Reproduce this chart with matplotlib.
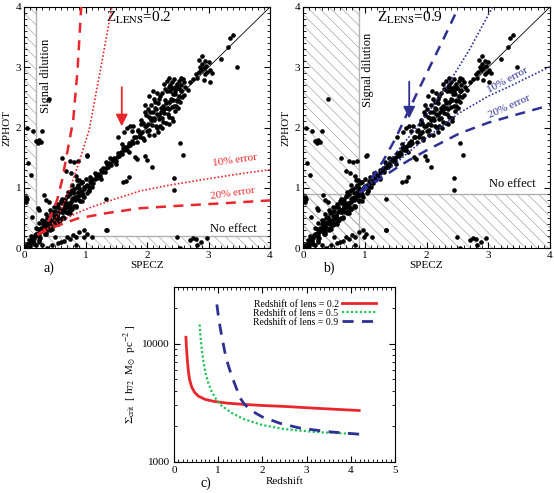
import matplotlib
matplotlib.use("Agg")
import matplotlib.pyplot as plt
from matplotlib.patches import Rectangle
from matplotlib.ticker import MultipleLocator, FixedLocator, NullFormatter, LogLocator

plt.rcParams['font.family'] = ['Liberation Serif', 'DejaVu Serif']
plt.rcParams['mathtext.fontset'] = 'stix'
plt.rcParams['hatch.linewidth'] = 0.5

# ---------------- data ----------------
specz = [
 # tight band 0-1
 0.01,0.03,0.05,0.08,0.10,0.13,0.15,0.18,0.20,0.23,0.25,0.28,0.30,0.33,0.35,0.38,0.40,0.43,0.45,0.48,
 0.50,0.53,0.55,0.58,0.60,0.63,0.65,0.68,0.70,0.73,0.75,0.78,0.80,0.83,0.85,0.88,0.90,0.93,0.95,0.98,1.00,
 # core band 0-1
 0.04,0.07,0.11,0.14,0.17,0.21,0.24,0.27,0.31,0.34,0.37,0.41,0.44,0.47,0.51,0.54,0.57,0.61,0.64,0.67,
 0.71,0.74,0.77,0.81,0.84,0.87,0.91,0.94,0.97,
 # wider band 0-1.1
 0.12,0.16,0.22,0.26,0.31,0.36,0.40,0.44,0.47,0.51,0.54,0.57,0.61,0.64,0.67,0.71,0.74,0.77,0.81,0.84,
 0.87,0.91,0.94,0.97,1.01,1.05,1.08,
 # upper fan
 0.20,0.25,0.30,0.36,0.42,0.48,0.55,0.62,0.70,0.78,0.86,0.95,
 0.32,0.38,0.44,0.50,0.56,0.60,0.66,0.72,0.76,0.82,0.90,0.93,
 # lower fan
 0.25,0.35,0.45,0.55,0.65,0.75,0.85,0.95,0.58,0.78,
 0.34,0.42,0.48,0.53,0.62,0.68,0.73,0.82,0.90,0.96,1.03,1.10,
 # band 1-1.8
 1.03,1.05,1.07,1.09,1.11,1.13,1.15,1.17,1.19,1.21,1.23,1.25,1.27,1.29,1.31,1.33,1.35,1.37,1.39,1.41,
 1.43,1.45,1.47,1.49,1.51,1.53,1.55,1.57,1.59,1.61,1.63,1.65,1.67,1.69,1.71,1.73,1.75,1.77,1.79,
 1.15,1.25,1.40,1.50,1.60,1.70,1.05,1.33,
 # blob 1.8-2.6
 1.82,1.84,1.86,1.88,1.90,1.92,1.94,1.96,1.98,2.00,2.02,2.04,2.06,2.08,2.10,2.12,2.14,2.16,2.18,2.20,
 2.22,2.24,2.26,2.28,2.30,2.32,2.34,2.36,2.38,2.40,2.42,2.44,2.46,2.48,2.50,2.52,2.54,2.56,2.58,2.60,
 1.91,1.96,2.01,2.07,2.11,2.16,2.04,2.11,2.17,2.21,2.26,2.31,2.36,2.41,2.46,2.51,2.19,2.24,2.29,1.97,
 2.03,2.09,2.13,2.27,
 1.85,1.89,1.93,1.99,2.03,2.07,2.11,2.15,2.19,2.23,2.27,2.31,2.35,2.39,2.43,2.47,2.51,2.55,2.57,2.13,
 2.21,2.33,2.37,2.45,2.05,2.25,2.35,2.42,2.18,1.95,
 # clump above diagonal
 2.32,2.36,2.40,2.44,2.48,2.52,2.56,2.40,2.45,2.35,2.50,2.55,2.60,
 # 2.6-3.1
 2.62,2.66,2.70,2.75,2.80,2.84,2.86,2.88,2.90,2.92,2.94,2.96,2.98,3.00,3.02,2.85,2.90,2.95,3.05,2.82,
 2.92,3.02,
 3.21,3.32,3.35,3.40,3.47,
 # arm near arrow
 1.53,1.62,1.67,1.72,1.78,1.75,
 # outliers below band
 1.80,1.83,1.97,2.00,2.08,1.61,1.66,1.70,2.44,2.44,2.54,2.59,1.34,1.34,
 2.49,2.54,2.70,2.75,2.80,2.82,2.88,2.97,
 # outliers above band
 0.05,0.15,0.20,0.22,0.25,0.27,0.30,0.41,0.06,0.12,0.04,0.03,0.62,0.75,0.88,0.81,0.76,0.69,0.86,0.89,
 0.35,0.41,0.24,0.33,1.03,0.72,0.78,0.13,0.22,0.05,0.84,1.02,
 # low strip
 0.30,0.37,0.45,0.55,0.60,0.65,0.70,0.75,0.84,0.85,0.98,1.11,1.35,1.02,0.90,0.50,0.97,0.80,0.20,0.25,
 0.10,
]
zphot = [
 0.04,0.00,0.05,0.13,0.08,0.15,0.10,0.22,0.23,0.20,0.25,0.33,0.28,0.35,0.30,0.42,0.43,0.40,0.45,0.53,
 0.48,0.55,0.50,0.62,0.63,0.60,0.65,0.73,0.68,0.75,0.70,0.82,0.83,0.80,0.85,0.93,0.88,0.95,0.90,1.02,1.03,
 0.05,0.06,0.13,0.12,0.17,0.24,0.21,0.28,0.30,0.36,0.35,0.41,0.47,0.44,0.52,0.53,0.59,0.59,0.64,0.70,
 0.68,0.75,0.76,0.83,0.82,0.87,0.94,0.91,0.98,
 0.20,0.07,0.32,0.17,0.40,0.26,0.52,0.33,0.60,0.40,0.68,0.45,0.75,0.52,0.82,0.58,0.90,0.64,0.98,0.70,
 1.04,0.78,1.10,0.85,1.14,0.95,1.18,
 0.34,0.42,0.47,0.56,0.63,0.68,0.73,0.82,0.87,0.97,1.02,1.10,
 0.44,0.50,0.58,0.62,0.68,0.78,0.76,0.86,0.95,0.92,1.00,1.08,
 0.14,0.23,0.31,0.40,0.50,0.58,0.68,0.78,0.46,0.65,
 0.24,0.30,0.38,0.42,0.50,0.60,0.62,0.70,0.80,0.86,0.92,1.02,
 1.05,1.02,1.12,1.08,1.14,1.08,1.15,1.21,1.17,1.23,1.20,1.30,1.26,1.32,1.26,1.33,1.39,1.35,1.41,1.38,
 1.48,1.44,1.50,1.44,1.51,1.57,1.53,1.59,1.56,1.66,1.62,1.68,1.62,1.69,1.75,1.71,1.77,1.74,1.84,
 1.25,1.15,1.50,1.40,1.72,1.60,0.97,1.43,
 1.85,1.76,1.96,1.84,2.06,1.92,1.82,2.02,2.20,1.94,2.05,1.96,2.16,2.04,2.26,2.12,2.02,2.22,2.40,2.14,
 2.25,2.16,2.36,2.24,2.46,2.32,2.22,2.42,2.60,2.34,2.45,2.36,2.56,2.44,2.66,2.52,2.42,2.62,2.80,2.54,
 2.12,2.25,2.31,2.38,2.47,2.58,1.87,1.88,1.99,2.03,2.09,2.08,2.18,2.16,2.27,2.32,2.48,2.57,2.64,2.38,
 2.52,2.61,2.33,2.72,
 1.95,1.90,2.08,2.02,2.18,2.12,2.15,2.30,2.20,2.32,2.30,2.40,2.30,2.48,2.55,2.35,2.45,2.60,2.50,2.42,
 2.52,2.60,2.70,2.68,2.25,2.00,2.06,2.10,1.92,1.80,
 2.78,2.82,2.75,2.80,2.72,2.78,2.70,2.65,2.60,2.68,2.65,2.82,2.75,
 2.68,2.62,2.75,2.80,2.88,2.92,3.00,2.95,3.05,2.98,3.10,3.02,2.92,3.08,2.95,3.12,3.18,2.88,2.90,2.82,
 2.79,2.76,
 3.14,3.33,3.48,3.54,3.01,
 1.85,1.92,1.99,2.02,2.02,1.95,
 1.51,1.47,1.53,1.46,1.35,1.10,1.12,1.18,1.16,0.96,1.74,1.54,0.81,0.30,
 0.18,0.00,0.14,0.16,0.15,0.05,0.10,0.16,
 2.00,1.94,1.78,1.74,1.80,1.76,1.95,2.47,1.41,1.21,0.85,0.77,1.49,1.45,1.44,1.43,1.24,1.27,1.13,1.13,
 0.80,0.77,0.63,0.88,1.54,0.93,1.04,0.52,0.66,0.82,1.20,1.52,
 0.05,0.00,0.05,0.08,0.10,0.12,0.19,0.15,0.05,0.18,0.19,0.19,0.30,0.24,0.27,0.18,0.30,0.22,0.05,0.10,
 0.03,
]

# error curves, lens z = 0.2 (panel a)
a_dash_up_x = [0.22, 0.33, 0.43, 0.54, 0.62, 0.68, 0.80, 0.87, 0.93]
a_dash_up_y = [0.22, 0.30, 0.52, 0.80, 1.13, 1.46, 2.12, 2.95, 4.00]
a_dot_up_x = [0.22, 0.43, 0.60, 0.76, 0.89, 1.06, 1.25, 1.43]
a_dot_up_y = [0.22, 0.35, 0.63, 1.02, 1.41, 1.96, 3.00, 4.00]
a_dot_lo_x = [0.22, 0.40, 0.60, 0.86, 1.10, 1.50, 1.90, 2.40, 3.00, 3.50, 4.00]
a_dot_lo_y = [0.22, 0.33, 0.45, 0.58, 0.68, 0.82, 0.95, 1.05, 1.15, 1.23, 1.30]
a_dash_lo_x = [0.22, 0.49, 0.87, 1.35, 1.89, 2.50, 3.20, 4.00]
a_dash_lo_y = [0.22, 0.35, 0.49, 0.58, 0.66, 0.70, 0.74, 0.79]

# error curves, lens z = 0.9 (panel b)
b_dash_up_x = [0.92, 1.10, 1.30, 1.50, 1.65, 1.85, 2.05, 2.28, 2.52]
b_dash_up_y = [0.92, 1.14, 1.45, 1.82, 2.15, 2.58, 3.00, 3.48, 4.00]
b_dot_up_x = [0.92, 1.20, 1.50, 1.80, 2.10, 2.40, 2.70, 3.07]
b_dot_up_y = [0.92, 1.22, 1.57, 1.95, 2.35, 2.80, 3.30, 4.00]
b_dot_lo_x = [0.92, 1.20, 1.50, 1.72, 2.00, 2.53, 3.00, 3.34, 4.00]
b_dot_lo_y = [0.92, 1.15, 1.40, 1.60, 1.83, 2.24, 2.52, 2.68, 3.01]
b_dash_lo_x = [0.92, 1.18, 1.50, 1.72, 2.00, 2.53, 3.00, 3.34, 4.00]
b_dash_lo_y = [0.92, 1.10, 1.32, 1.46, 1.62, 1.90, 2.08, 2.18, 2.37]

# Sigma_crit curves (panel c)
c02_z = [0.27, 0.28, 0.30, 0.32, 0.35, 0.40, 0.46, 0.55, 0.70, 0.90, 1.20, 1.60, 2.00, 2.50, 3.30, 4.19]
c02_s = [11300, 9500, 7400, 6100, 5000, 4300, 3900, 3600, 3380, 3250, 3140, 3060, 3000, 2945, 2830, 2720]
c05_z = [0.58, 0.60, 0.63, 0.67, 0.72, 0.78, 0.85, 0.95, 1.05, 1.30, 1.58, 2.00, 2.48, 3.20, 4.19]
c05_s = [14490, 11500, 8800, 6900, 5500, 4600, 3950, 3400, 3040, 2600, 2300, 2050, 1900, 1790, 1717]
c09_z = [0.97, 1.00, 1.04, 1.08, 1.15, 1.22, 1.30, 1.40, 1.50, 1.60, 1.70, 1.85, 2.00, 2.40, 2.86, 3.50, 4.19]
c09_s = [21380, 17500, 14000, 11500, 8500, 6700, 5400, 4300, 3450, 3050, 2830, 2580, 2400, 2120, 1930, 1800, 1717]
legend_labels = ['Redshift of lens = 0.2', 'Redshift of lens = 0.5', 'Redshift of lens = 0.9']

RED = '#e8262c'
BLUE = '#2e3192'
GREEN = '#22c35a'
HATCH_C = '#a8a8a8'

W, H = 554, 493
fig = plt.figure(figsize=(W/100, H/100), dpi=100)

def fr(l, t, r, b):
    return [l/W, 1-b/H, (r-l)/W, (b-t)/H]

def scatter_panel(ax, zl, color, curves, texts, arrow, letter):
    ax.set_xlim(0, 4); ax.set_ylim(0, 4)
    ax.add_patch(Rectangle((0, 0), zl, 4, facecolor='none', edgecolor=HATCH_C,
                           hatch='\\\\\\', linewidth=0, zorder=0))
    ax.add_patch(Rectangle((0, 0), 4, zl, facecolor='none', edgecolor=HATCH_C,
                           hatch='\\\\\\', linewidth=0, zorder=0))
    ax.axvline(zl, color='#b0b0b0', lw=1.0, zorder=1)
    ax.axhline(zl, color='#b0b0b0', lw=1.0, zorder=1)
    ax.plot([0, 4], [0, 4], color='black', lw=0.6, zorder=2)
    ax.scatter(specz, zphot, s=11, c='black', marker='o', linewidths=0, zorder=3)
    for (x, y, ls, lw) in curves:
        if ls == 'dash':
            ax.plot(x, y, color=color, lw=lw, dashes=(4, 3), zorder=4)
        else:
            ax.plot(x, y, color=color, lw=lw, linestyle=(0, (1, 1.2)), zorder=4)
    for (x, y, s, rot, fs, kw) in texts:
        ax.text(x, y, s, rotation=rot, fontsize=fs, **kw)
    ax.annotate('', xy=(arrow[0], arrow[1]), xytext=(arrow[0], arrow[2]),
                arrowprops=dict(arrowstyle='-|>,head_width=0.35,head_length=0.7',
                                color=color, lw=1.3, shrinkA=0, shrinkB=0), zorder=5)
    ax.xaxis.set_major_locator(MultipleLocator(1))
    ax.yaxis.set_major_locator(MultipleLocator(1))
    ax.xaxis.set_minor_locator(MultipleLocator(0.1))
    ax.yaxis.set_minor_locator(MultipleLocator(0.1))
    ax.tick_params(which='both', direction='in', top=True, right=True, labelsize=8, pad=2)
    ax.tick_params(which='major', length=4, width=0.8)
    ax.tick_params(which='minor', length=2, width=0.6)
    ax.set_xlabel('SPECZ', fontsize=8, labelpad=1)
    ax.set_ylabel('ZPHOT', fontsize=8, labelpad=3)
    ax.text(0.08, -0.083, letter, transform=ax.transAxes, fontsize=10, ha='left', va='center')

axa = fig.add_axes(fr(24, 7, 270, 248))
scatter_panel(axa, 0.2, RED,
    [(a_dash_up_x, a_dash_up_y, 'dash', 1.8), (a_dot_up_x, a_dot_up_y, 'dot', 1.2),
     (a_dot_lo_x, a_dot_lo_y, 'dot', 1.2), (a_dash_lo_x, a_dash_lo_y, 'dash', 1.8)],
    [(0.36, 2.85, 'Signal dilution', 90, 9, dict(ha='center', va='center')),
     (3.4, 0.21, 'No effect', 0, 9, dict(ha='center', va='bottom')),
     (3.43, 1.46, '10% error', 8, 8, dict(ha='center', va='center', color=RED)),
     (3.40, 0.91, '20% error', 8, 8, dict(ha='center', va='center', color=RED)),
     (1.87, 3.81, r'Z$_{\rm LENS}$=0.2', 0, 11, dict(ha='center', va='center'))],
    (1.59, 2.02, 2.67), 'a)')

axb = fig.add_axes(fr(303, 7, 550, 248))
scatter_panel(axb, 0.9, BLUE,
    [(b_dash_up_x, b_dash_up_y, 'dash', 1.8), (b_dot_up_x, b_dot_up_y, 'dot', 1.2),
     (b_dot_lo_x, b_dot_lo_y, 'dot', 1.2), (b_dash_lo_x, b_dash_lo_y, 'dash', 1.8)],
    [(1.06, 2.95, 'Signal dilution', 90, 9, dict(ha='center', va='center')),
     (3.39, 0.96, 'No effect', 0, 9, dict(ha='center', va='bottom')),
     (3.31, 2.79, '10% error', 28, 8, dict(ha='center', va='center', color=BLUE)),
     (3.34, 2.35, '20% error', 24, 8, dict(ha='center', va='center', color=BLUE)),
     (1.73, 3.81, r'Z$_{\rm LENS}$=0.9', 0, 11, dict(ha='center', va='center'))],
    (1.72, 2.15, 2.76), 'b)')

# ---------------- panel c ----------------
axc = fig.add_axes(fr(174, 287, 395, 462))
axc.set_xlim(0, 5)
axc.set_ylim(1000, 30000)
axc.set_yscale('log')
axc.plot(c02_z, c02_s, color=RED, lw=2.0, label=legend_labels[0])
axc.plot(c05_z, c05_s, color=GREEN, lw=1.6, linestyle=(0, (1, 1)), label=legend_labels[1])
axc.plot(c09_z, c09_s, color=BLUE, lw=2.0, dashes=(4, 3), label=legend_labels[2])
axc.yaxis.set_major_locator(FixedLocator([1000, 10000]))
axc.yaxis.set_major_formatter(plt.FuncFormatter(lambda v, p: '%d' % v))
axc.yaxis.set_minor_locator(LogLocator(base=10, subs=range(2, 10)))
axc.yaxis.set_minor_formatter(NullFormatter())
axc.xaxis.set_major_locator(MultipleLocator(1))
axc.xaxis.set_minor_locator(MultipleLocator(0.1))
axc.tick_params(which='both', direction='in', top=True, right=True, labelsize=8, pad=3)
axc.tick_params(which='major', length=4, width=0.8)
axc.tick_params(which='minor', length=2, width=0.6)
axc.set_xlabel('Redshift', fontsize=8, labelpad=1)
axc.set_ylabel(r'$\Sigma_{\rm crit}$  [ h$_{72}$  M$_{\odot}$  pc$^{-2}$ ]', fontsize=8, labelpad=2)
axc.text(0.12, -0.12, 'c)', transform=axc.transAxes, fontsize=10, ha='left', va='center')
axc.legend(loc='upper right', bbox_to_anchor=(0.947, 0.966), frameon=False, fontsize=7,
           markerfirst=False, handlelength=3.5, labelspacing=0.0, handletextpad=0.4,
           borderaxespad=0.3)

fig.savefig('out.png', dpi=100)
